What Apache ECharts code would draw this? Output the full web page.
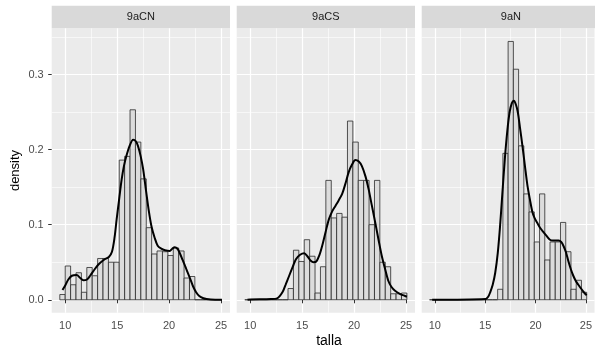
<!DOCTYPE html>
<html><head><meta charset="utf-8">
<script src="https://cdn.jsdelivr.net/npm/echarts@6/dist/echarts.min.js"></script>
<style>html,body{margin:0;padding:0;background:#fff}#c{width:595px;height:349px}</style>
</head><body><div id="c"></div>
<script>
// ---- data ----
const panels = ['9aCN', '9aCS', '9aN'];
const binEdges = [9.48, 10.00, 10.52, 11.04, 11.56, 12.08, 12.60, 13.12, 13.64, 14.16, 14.68, 15.20, 15.72, 16.24, 16.76, 17.28, 17.80, 18.32, 18.84, 19.36, 19.88, 20.40, 20.92, 21.44, 21.96, 22.48, 23.00, 23.52, 24.04, 24.56, 25.08];
const histCN = [0.007, 0.045, 0.020, 0.036, 0.010, 0.043, 0.032, 0.055, 0.055, 0.050, 0.050, 0.186, 0.191, 0.253, 0.210, 0.161, 0.096, 0.061, 0.065, 0.064, 0.059, 0.069, 0.065, 0.029, 0.031, 0, 0, 0, 0, 0];
const histCS = [0, 0, 0, 0, 0, 0, 0, 0, 0.015, 0.066, 0.051, 0.080, 0.058, 0.009, 0.044, 0.159, 0.109, 0.115, 0.110, 0.238, 0.210, 0.159, 0.159, 0.100, 0.159, 0.050, 0.044, 0.008, 0.008, 0.009];
const histN = [0, 0, 0, 0, 0, 0, 0, 0, 0, 0, 0, 0, 0, 0.014, 0.195, 0.344, 0.307, 0.205, 0.141, 0.117, 0.077, 0.141, 0.053, 0.077, 0.077, 0.103, 0.064, 0.014, 0.026, 0.010];
const densCN = [[9.74,0.013],[10.0,0.019],[10.3,0.027],[10.64,0.032],[11.1,0.033],[11.45,0.029],[11.75,0.026],[12.1,0.027],[12.4,0.032],[12.8,0.040],[13.2,0.047],[13.8,0.054],[14.2,0.057],[14.5,0.064],[14.75,0.083],[14.95,0.107],[15.2,0.135],[15.43,0.160],[15.65,0.178],[15.9,0.192],[16.2,0.205],[16.54,0.213],[16.8,0.211],[17.0,0.205],[17.25,0.192],[17.5,0.174],[17.8,0.143],[18.05,0.118],[18.3,0.098],[18.6,0.083],[18.9,0.072],[19.25,0.068],[19.6,0.066],[20.06,0.065],[20.3,0.068],[20.54,0.070],[20.8,0.068],[21.0,0.063],[21.3,0.053],[21.65,0.041],[22.0,0.029],[22.3,0.018],[22.6,0.010],[22.9,0.005],[23.3,0.002],[23.6,0.001],[24.0,0.0003],[25.08,0]];
const densCS = [[9.74,0],[10.0,0.0005],[12.0,0.001],[12.6,0.002],[13.1,0.010],[13.4,0.020],[13.75,0.032],[14.1,0.044],[14.4,0.054],[14.8,0.060],[15.2,0.062],[15.5,0.058],[15.83,0.052],[16.1,0.050],[16.36,0.051],[16.65,0.059],[16.93,0.072],[17.25,0.090],[17.57,0.107],[17.9,0.118],[18.2,0.125],[18.5,0.132],[18.85,0.141],[19.15,0.154],[19.48,0.170],[19.8,0.180],[20.12,0.186],[20.45,0.184],[20.75,0.178],[21.1,0.164],[21.4,0.147],[21.7,0.126],[22.03,0.103],[22.35,0.080],[22.67,0.058],[23.0,0.040],[23.3,0.025],[23.6,0.017],[23.94,0.012],[24.4,0.008],[24.9,0.005],[25.08,0.004]];
const densN = [[9.74,0],[15.04,0.001],[15.3,0.004],[15.5,0.010],[15.75,0.020],[16.0,0.036],[16.25,0.062],[16.48,0.098],[16.7,0.140],[16.95,0.187],[17.2,0.225],[17.43,0.250],[17.65,0.262],[17.85,0.265],[18.05,0.260],[18.24,0.250],[18.45,0.230],[18.7,0.205],[18.95,0.178],[19.2,0.152],[19.45,0.133],[19.67,0.118],[19.9,0.109],[20.15,0.103],[20.45,0.096],[20.79,0.090],[21.1,0.085],[21.43,0.080],[21.75,0.079],[22.07,0.079],[22.3,0.079],[22.55,0.077],[22.8,0.071],[23.03,0.063],[23.25,0.052],[23.5,0.041],[23.75,0.032],[24.0,0.025],[24.25,0.020],[24.46,0.016],[24.75,0.011],[25.0,0.007],[25.08,0.006]];
const xTicks = [10, 15, 20, 25];
const yTicks = [0, 0.1, 0.2, 0.3];
const xTitle = 'talla';
const yTitle = 'density';

// ---- layout ----
const FONT = '"Liberation Sans", Arial, sans-serif';
const gridLefts = [51.7, 236.7, 421.7];
const gridW = 178.3, gridTop = 28.3, gridH = 284.4;
const xMin = 8.70, xMax = 25.86, yMin = -0.0172, yMax = 0.3615;
const hists = [histCN, histCS, histN];
const dens = [densCN, densCS, densN];

const grids = [], xAxes = [], yAxes = [], series = [], graphics = [];
panels.forEach((name, i) => {
  grids.push({left: gridLefts[i], top: gridTop, width: gridW, height: gridH, show: true, backgroundColor: '#EBEBEB', borderWidth: 0, containLabel: false});
  xAxes.push({
    type: 'value', gridIndex: i, min: xMin, max: xMax, splitNumber: 3,
    axisLine: {show: false},
    axisTick: {show: true, length: 3.5, customValues: xTicks, lineStyle: {color: '#333333', width: 1}},
    axisLabel: {show: true, customValues: xTicks, color: '#4D4D4D', fontSize: 11, fontFamily: FONT, margin: 8},
    splitLine: {show: true, lineStyle: {color: '#FFFFFF', width: 1.2}},
    minorTick: {show: false, splitNumber: 2},
    minorSplitLine: {show: true, lineStyle: {color: '#FFFFFF', width: 0.6}}
  });
  yAxes.push({
    type: 'value', gridIndex: i, min: yMin, max: yMax, splitNumber: 4,
    axisLine: {show: false},
    axisTick: {show: i === 0, length: 3.5, customValues: yTicks, lineStyle: {color: '#333333', width: 1}},
    axisLabel: {show: i === 0, customValues: yTicks, color: '#4D4D4D', fontSize: 11, fontFamily: FONT, margin: 8, formatter: v => v.toFixed(1)},
    splitLine: {show: true, lineStyle: {color: '#FFFFFF', width: 1.2}},
    minorTick: {show: false, splitNumber: 2},
    minorSplitLine: {show: true, lineStyle: {color: '#FFFFFF', width: 0.6}},
    name: i === 0 ? yTitle : '', nameLocation: 'middle', nameGap: 30, nameRotate: 90,
    nameTextStyle: {color: '#000', fontSize: 13, fontFamily: FONT}
  });
  const bars = hists[i].map((h, k) => [binEdges[k], binEdges[k + 1], h]);
  series.push({
    type: 'custom', xAxisIndex: i, yAxisIndex: i, data: bars, encode: {x: [0, 1], y: 2}, z: 2,
    renderItem: (params, api) => {
      const p0 = api.coord([api.value(0), api.value(2)]);
      const p1 = api.coord([api.value(1), 0]);
      return {type: 'rect', shape: {x: p0[0], y: p0[1], width: p1[0] - p0[0], height: p1[1] - p0[1]},
        style: {fill: '#DCDCDC', stroke: '#2a2a2a', lineWidth: 0.8}};
    }
  });
  series.push({
    type: 'line', xAxisIndex: i, yAxisIndex: i, data: dens[i], showSymbol: false, symbol: 'none',
    smooth: 0.3, z: 3, clip: false, lineStyle: {color: '#000', width: 2}
  });
  graphics.push({type: 'rect', left: gridLefts[i], top: 5.7, shape: {width: gridW, height: 22.6}, style: {fill: '#D9D9D9'}, silent: true});
  graphics.push({type: 'text', x: gridLefts[i] + gridW / 2, y: 17, style: {text: name, fill: '#1A1A1A', font: '11px ' + FONT, textAlign: 'center', textVerticalAlign: 'middle'}, silent: true});
});
graphics.push({type: 'text', x: 329, y: 341, style: {text: xTitle, fill: '#000', font: '14px ' + FONT, textAlign: 'center', textVerticalAlign: 'middle'}, silent: true});

const chart = echarts.init(document.getElementById('c'), null, {renderer: 'canvas'});
chart.setOption({animation: false, backgroundColor: '#FFFFFF', grid: grids, xAxis: xAxes, yAxis: yAxes, series: series, graphic: graphics});
</script></body></html>
